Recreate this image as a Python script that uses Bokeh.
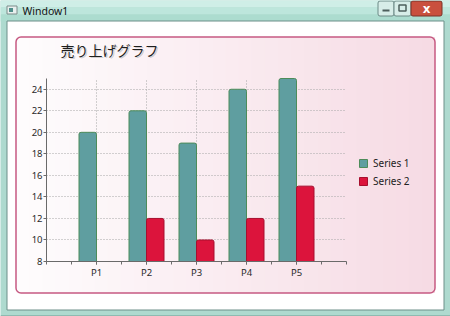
from bokeh.plotting import figure
from bokeh.models import (Range1d, FixedTicker, Label, Legend, LegendItem, LinearAxis,
                          Grid, ColumnDataSource)
from bokeh.transform import dodge
from bokeh.embed import file_html
from bokeh.resources import INLINE

# ---------------- data ----------------
categories = ["P1", "P2", "P3", "P4", "P5"]
series1 = [20, 22, 19, 24, 25]
series2 = [8, 12, 10, 12, 15]
series_names = ["Series 1", "Series 2"]
y_ticks = [8, 10, 12, 14, 16, 18, 20, 22, 24]
chart_title = "売り上げグラフ"
window_title = "Window1"

# ---------------- geometry ----------------
W, H = 450, 316
FL, FR, FT, FB = 46, 346, 78, 261          # chart plot area in canvas pixels
X0, X1 = 0, len(categories) + 1            # category axis range
Y0, Y1 = 8, 25                             # value axis range
kx = (X1 - X0) / (FR - FL)
ky = (Y1 - Y0) / (FB - FT)

# one canvas-sized frame; chrome in pixel coordinates, chart on its own ranges
p = figure(width=W, height=H, output_backend="svg", toolbar_location=None,
           x_range=Range1d(0, W), y_range=Range1d(H, 0),
           x_axis_type=None, y_axis_type=None, min_border=0)
p.outline_line_color = None
p.background_fill_color = "#aedacf"
p.border_fill_color = "#aedacf"
p.extra_x_ranges = {"cx": Range1d(X0 - FL * kx, X1 + (W - FR) * kx)}
p.extra_y_ranges = {"cy": Range1d(Y0 - (H - FB) * ky, Y1 + FT * ky)}


def box(l, t, r, b, fill=None, line=None, lw=1, radius=0):
    p.quad(left=l, right=r, top=t, bottom=b, level="image",
           fill_color=fill, fill_alpha=1 if fill else 0,
           line_color=line, line_width=lw, line_alpha=1 if line else 0,
           border_radius=radius)


# ---------------- window chrome ----------------
box(0, 0, W, 7, fill="#cfeee7")
box(0, 7, W, 14, fill="#bde6dc")
box(0, 14, W, 21, fill="#acdccf")
box(0, H - 1, W, H, fill="#6f9c93")
box(6.5, 20.5, 443.5, 309.5, fill="#ffffff", line="#6d8f89")

# chart panel gradient + border
L, R, T, B = 15.5, 434.5, 36.5, 292.5
n = 32
w = (R - L) / n
c0 = (254, 252, 253)
c1 = (246, 219, 228)
for i in range(n):
    t = i / (n - 1)
    c = tuple(int(round(a + (b_ - a) * t)) for a, b_ in zip(c0, c1))
    box(L + i * w, T, min(R, L + (i + 1) * w + 0.7), B, fill="#%02x%02x%02x" % c)
box(L, T, R, B, line="#c65a82", lw=1.5, radius=5)

# window icon and caption buttons
box(6.5, 5.5, 16.5, 13.5, fill="#e8f0ee", line="#7d8c8a")
box(8.5, 7.5, 12.5, 11.5, fill="#4f8f8a")
box(377.5, 0.5, 393.5, 15.5, fill="#d7ede8", line="#6c8a86", radius=2)
box(393.5, 0.5, 410.5, 15.5, fill="#d7ede8", line="#6c8a86", radius=2)
box(410.5, 0.5, 441.5, 15.5, fill="#c9503e", line="#7a3328", radius=2)
box(382, 9, 389, 11, fill="#4d5f5c")
box(398.5, 4.5, 405.5, 10.5, line="#4d5f5c", lw=1.5)

p.add_layout(Label(x=61.5, y=50.5, text=chart_title, text_font="Noto Sans CJK JP",
                   text_font_size="14px", text_color="#808080", text_alpha=0.35,
                   text_align="left", text_baseline="middle"))
p.add_layout(Label(x=60, y=49, text=chart_title, text_font="Noto Sans CJK JP",
                   text_font_size="14px", text_color="#1e1e1e",
                   text_align="left", text_baseline="middle"))
p.add_layout(Label(x=22, y=10, text=window_title, text_font="Noto Sans",
                   text_font_size="10.5px", text_color="#111111",
                   text_align="left", text_baseline="middle"))
p.add_layout(Label(x=426, y=8, text="x", text_font="DejaVu Sans",
                   text_font_size="12px", text_font_style="bold", text_color="#ffffff",
                   text_align="center", text_baseline="middle"))

# ---------------- chart axes (fixed inside the canvas) ----------------
cat_pos = list(range(1, len(categories) + 1))
xaxis = LinearAxis(x_range_name="cx", y_range_name="cy", fixed_location=Y0,
                   bounds=(X0, X1),
                   ticker=FixedTicker(ticks=cat_pos,
                                      minor_ticks=[k / 2 for k in range(2 * X0, 2 * X1 + 1)]),
                   major_label_overrides={v: c for v, c in zip(cat_pos, categories)})
yaxis = LinearAxis(x_range_name="cx", y_range_name="cy", fixed_location=X0,
                   bounds=(Y0, Y1), ticker=FixedTicker(ticks=y_ticks, minor_ticks=[]))
for ax in (xaxis, yaxis):
    ax.axis_line_color = "#6a6a6a"
    ax.major_tick_line_color = "#6a6a6a"
    ax.minor_tick_line_color = "#6a6a6a"
    ax.major_tick_in = 0
    ax.major_tick_out = 3
    ax.minor_tick_in = 0
    ax.minor_tick_out = 3
    ax.major_label_text_font = "Noto Sans"
    ax.major_label_text_font_size = "9.5px"
    ax.major_label_text_color = "#2a2a2a"
    ax.major_label_standoff = 1
yaxis.minor_tick_line_color = None
p.add_layout(xaxis, "below")
p.add_layout(yaxis, "left")

grid_style = dict(grid_line_color="#a6a6a6", grid_line_dash="1 2", grid_line_width=1,
                  x_range_name="cx", y_range_name="cy", level="underlay")
try:
    xg = Grid(dimension=0, ticker=FixedTicker(ticks=cat_pos), bounds=(X0, X1),
              cross_bounds=(Y0, Y1), **grid_style)
    yg = Grid(dimension=1, ticker=FixedTicker(ticks=y_ticks), bounds=(Y0, Y1),
              cross_bounds=(X0, X1), **grid_style)
    p.add_layout(xg)
    p.add_layout(yg)
except AttributeError:
    p.segment(x0=cat_pos, x1=cat_pos, y0=[Y0] * len(cat_pos), y1=[Y1] * len(cat_pos),
              x_range_name="cx", y_range_name="cy", level="underlay",
              line_color="#a6a6a6", line_dash="1 2")
    p.segment(x0=[X0] * len(y_ticks), x1=[X1] * len(y_ticks), y0=y_ticks, y1=y_ticks,
              x_range_name="cx", y_range_name="cy", level="underlay",
              line_color="#a6a6a6", line_dash="1 2")

# ---------------- bars ----------------
src = ColumnDataSource(dict(
    x=cat_pos,
    s1=[max(v, Y0) for v in series1],
    s2=[max(v, Y0) for v in series2],
    a1=[1.0 if v > Y0 else 0.0 for v in series1],
    a2=[1.0 if v > Y0 else 0.0 for v in series2],
))
bw = 0.35
r1 = p.vbar(x=dodge("x", -bw / 2, range=p.extra_x_ranges["cx"]), top="s1", bottom=Y0,
            width=bw, source=src, x_range_name="cx", y_range_name="cy",
            fill_color="#5f9ea0", line_color="#4d8c5a", line_width=1,
            fill_alpha="a1", line_alpha="a1", border_radius=(2, 2, 0, 0))
r2 = p.vbar(x=dodge("x", bw / 2, range=p.extra_x_ranges["cx"]), top="s2", bottom=Y0,
            width=bw, source=src, x_range_name="cx", y_range_name="cy",
            fill_color="#dc143c", line_color="#a70f2e", line_width=1,
            fill_alpha="a2", line_alpha="a2", border_radius=(2, 2, 0, 0))

# legend swatches drawn from a row where each series is visible
i1 = next(i for i, v in enumerate(series1) if v > Y0)
i2 = next(i for i, v in enumerate(series2) if v > Y0)
legend = Legend(items=[LegendItem(label=series_names[0], renderers=[r1], index=i1),
                       LegendItem(label=series_names[1], renderers=[r2], index=i2)],
                location=(358, H - 188), orientation="vertical",
                background_fill_alpha=0, border_line_alpha=0, padding=0, margin=0,
                spacing=4, glyph_width=10, glyph_height=10, label_height=10,
                label_standoff=5, label_text_font="Noto Sans",
                label_text_font_size="10px", label_text_color="#222222")
p.add_layout(legend)

open("out.html", "w").write(file_html(p, INLINE))
